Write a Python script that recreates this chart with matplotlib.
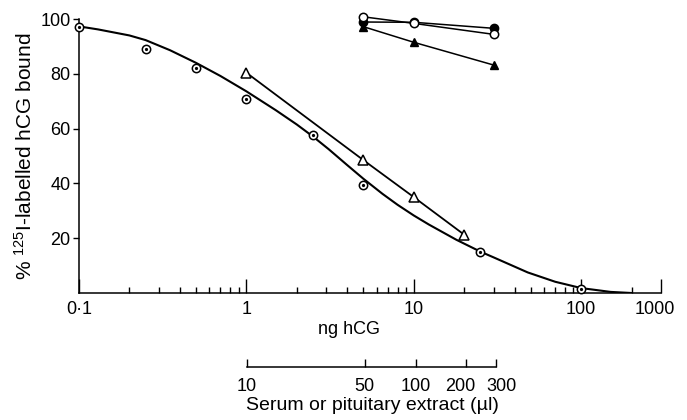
import matplotlib.pyplot as plt
import matplotlib.transforms as mtransforms
import numpy as np

plt.rcParams['font.family'] = ['Liberation Sans', 'DejaVu Sans']
plt.rcParams['mathtext.fontset'] = 'custom'
plt.rcParams['mathtext.rm'] = 'Liberation Sans'
plt.rcParams['mathtext.default'] = 'regular'

# standard (hCG) points, open circles
ng_std = [0.1, 0.25, 0.5, 1, 2.5, 5, 25, 100]
pct_std = [97.1, 89, 82.1, 70.8, 57.5, 39.5, 15, 1.5]

# fitted standard curve
ng_curve = [0.1, 0.13, 0.2, 0.25, 0.35, 0.5, 0.7, 1, 1.5, 2, 2.5, 3.1, 4, 5,
            6.5, 8, 10, 12.3, 18, 25, 30, 48, 70, 100, 150, 200]
pct_curve = [97.3, 96.2, 94.0, 92.3, 88.6, 84.0, 79.2, 73.6, 66.7, 61.5, 57.1,
             52.5, 46.7, 41.7, 36.2, 32.2, 28.3, 25.0, 19.4, 15.1, 13.0, 7.5,
             4.1, 1.8, 0.4, 0]

# open triangles
ng_tri = [1, 5, 10, 20]
pct_tri = [80.4, 48.5, 35, 21.3]

# top cluster (serum / extract dilutions)
ng_top = [5, 10, 30]
pct_fcirc = [98.9, 98.8, 96.6]
pct_ocirc = [100.8, 98.4, 94.4]
pct_ftri = [97.2, 91.5, 83.2]

xticks = [0.1, 1, 10, 100, 300]
xticklabels = ['0·1', '1', '10', '100', '1000']
yticks = [20, 40, 60, 80, 100]
ul_ticks = [10, 50, 100, 200, 300]

W, H = 687, 420
fig = plt.figure(figsize=(W / 100, H / 100), dpi=100)
ax = fig.add_axes([79 / W, 1 - 293 / H, (661 - 79) / W, (293 - 19) / H])

ax.plot(ng_curve, pct_curve, color='black', lw=1.5, zorder=2,
        solid_joinstyle='round')
ax.plot(ng_tri, pct_tri, color='black', lw=1.3, zorder=2)
ax.plot(ng_tri, pct_tri, ls='none', marker='^', ms=7, mfc='white', mec='black',
        mew=1.1, zorder=4, clip_on=False)
ax.plot(ng_std, pct_std, ls='none', marker='o', ms=6, mfc='white', mec='black',
        mew=1.1, zorder=4, clip_on=False)
ax.plot(ng_std, pct_std, ls='none', marker='o', ms=1.3, color='black', zorder=5,
        clip_on=False)

ax.plot(ng_top, pct_ftri, color='black', lw=1.1, marker='^', ms=6, mfc='black',
        clip_on=False, zorder=3)
ax.plot(ng_top, pct_fcirc, color='black', lw=1.1, marker='o', ms=6, mfc='black',
        clip_on=False, zorder=3)
ax.plot(ng_top, pct_ocirc, color='black', lw=1.1, marker='o', ms=6, mfc='white',
        mec='black', mew=1.1, clip_on=False, zorder=4)

ax.set_xscale('log')
ax.set_xlim(0.1, 300)
ax.set_ylim(0, 100)
ax.set_xticks(xticks)
ax.set_xticklabels(xticklabels)
ax.set_yticks(yticks)
ax.tick_params(axis='x', which='major', direction='in', length=10, width=1,
               labelsize=13, pad=6)
ax.tick_params(axis='x', which='minor', direction='in', length=4.5, width=1)
ax.tick_params(axis='y', direction='out', length=4, width=1, labelsize=13, pad=2)
for s in ['top', 'right']:
    ax.spines[s].set_visible(False)
for s in ['left', 'bottom']:
    ax.spines[s].set_linewidth(1.1)

# nudge the last label like in the original print
lbl = ax.get_xticklabels()[-1]
lbl.set_transform(lbl.get_transform() +
                  mtransforms.ScaledTranslation(-6 / 100, 0, fig.dpi_scale_trans))

ax.set_ylabel(r'% $^{125}$I-labelled hCG bound', fontsize=15, labelpad=3)
fig.text(349 / W, 1 - 330 / H, 'ng hCG', fontsize=13, ha='center', va='center')

# second scale: serum or pituitary extract volume
ax2 = fig.add_axes([247 / W, 1 - 367 / H, (496 - 247) / W, 0.02])
ax2.set_xscale('log')
ax2.set_xlim(10, 300)
ax2.set_xticks(ul_ticks)
ax2.set_xticklabels([str(t) for t in ul_ticks])
ax2.xaxis.set_minor_locator(plt.NullLocator())
ax2.tick_params(axis='x', direction='in', length=6, width=1, labelsize=13, pad=8)
ax2.set_yticks([])
for s in ['top', 'right', 'left']:
    ax2.spines[s].set_visible(False)
ax2.spines['bottom'].set_linewidth(1.1)
ax2.patch.set_visible(False)
labels2 = ax2.get_xticklabels()
for lbl, dx in zip(labels2, [0, 0, 0, -6, 5]):
    lbl.set_transform(lbl.get_transform() +
                      mtransforms.ScaledTranslation(dx / 100, 0, fig.dpi_scale_trans))
fig.text(372 / W, 1 - 405 / H, 'Serum or pituitary extract (µl)', fontsize=14,
         ha='center', va='center')

fig.savefig('out.png', dpi=100)
